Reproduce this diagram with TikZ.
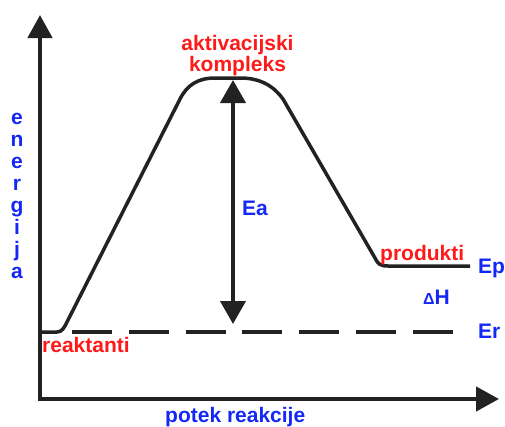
\documentclass[tikz,border=0pt]{standalone}
\usepackage{fontspec}
\setmainfont{Liberation Sans}
\usetikzlibrary{arrows.meta,positioning,calc}
\definecolor{labelred}{HTML}{FF1A1A}
\definecolor{labelblue}{HTML}{1428F5}
\definecolor{pathblack}{HTML}{222222}

\begin{document}
\begin{tikzpicture}[x=1pt,y=-1pt,
  redlab/.style={text=labelred,font=\fontsize{21}{17}\selectfont\bfseries,inner sep=0pt},
  bluelab/.style={text=labelblue,font=\fontsize{21}{17}\selectfont\bfseries,inner sep=0pt},
  axisline/.style={pathblack,line width=4.5pt,-{Triangle[length=23pt,width=24pt]}},
  ]
\useasboundingbox (0,0) rectangle (505,426);
% axes
\coordinate (origin) at (40,401);
\coordinate (ytip) at (40,15);
\coordinate (xstart) at (37.75,399);
\coordinate (xtip) at (499,399);
\draw[axisline] (origin) -- (ytip);
\draw[axisline] (xstart) -- (xtip);
% reaction path
\draw[pathblack,line width=3.5pt,line join=round]
  (40,332) -- (57,332) .. controls (62,332) and (64,328) .. (67,322)
  -- (180,99) .. controls (187,85) and (198,78) .. (215,78)
  -- (240,78) .. controls (258,78) and (272,84) .. (283,99)
  -- (375,258) .. controls (378,264) and (380,266) .. (388,266)
  -- (470,266);
% Er level
\coordinate (erstart) at (72,332);
\coordinate (erend) at (454,332);
\draw[pathblack,line width=4pt,dash pattern=on 40pt off 16.8pt] (erstart) -- (erend);
% Ea
\coordinate (peak) at (233,80);
\coordinate (base) at (233,324);
\draw[pathblack,line width=4pt,{Triangle[length=23pt,width=25pt]}-{Triangle[length=23pt,width=25pt]}] (peak) -- (base);
% labels
\node[redlab,align=center,anchor=north] (aktiv) at (237.5,35.5) {aktivacijski\\kompleks};
\node[bluelab,anchor=base west] (ea) at (242,215) {Ea};
\node[redlab,anchor=base west] (prod) at (380,260) {produkti};
\node[bluelab,anchor=base west] (ep) at (478,273) {Ep};
\node[bluelab,anchor=base west] (dh) at (423,304) {{\fontsize{16}{16}\selectfont Δ}H};
\node[bluelab,anchor=base west] (er) at (478,338) {Er};
\node[redlab,anchor=base west] (reakt) at (42,352) {reaktanti};
\node[bluelab,anchor=base west] (potek) at (165,422) {potek reakcije};
\foreach \ch/\y in {e/124,n/146,e/168,r/190,g/212,i/234,j/256,a/278}
  \node[bluelab,anchor=base] (en\y) at (17,\y) {\ch};
\end{tikzpicture}
\end{document}
